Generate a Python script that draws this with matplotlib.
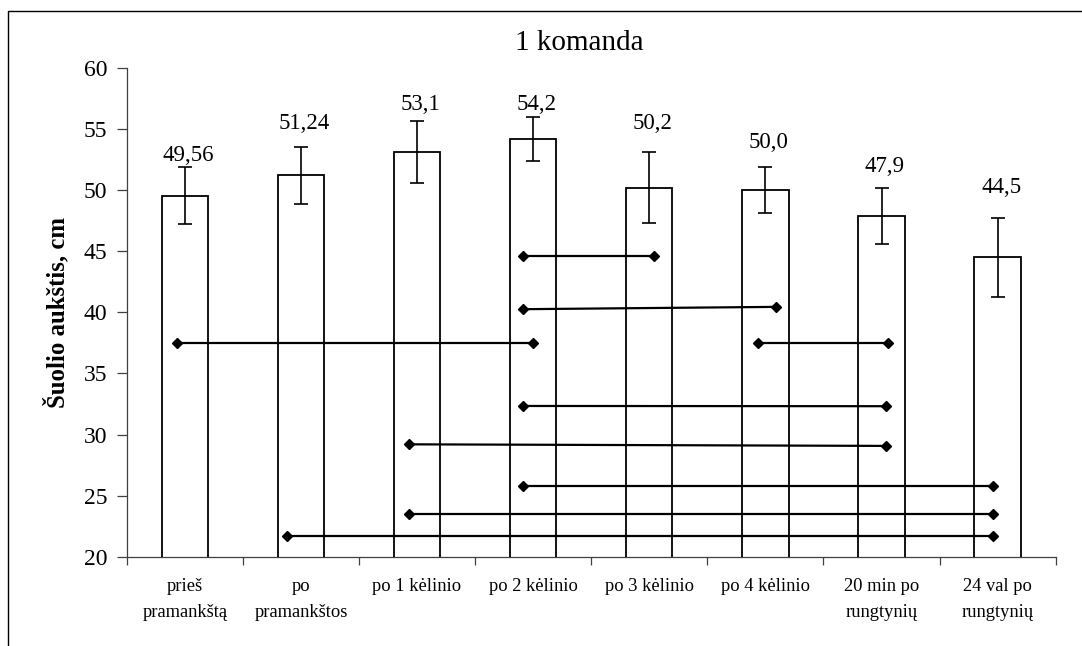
import matplotlib
matplotlib.use('Agg')
import numpy as np
import matplotlib.pyplot as plt
from matplotlib.patches import Rectangle

plt.rcParams['font.family'] = ['Liberation Serif', 'DejaVu Serif']

categories = ['prieš\npramankštą', 'po\npramankštos', 'po 1 kėlinio', 'po 2 kėlinio',
              'po 3 kėlinio', 'po 4 kėlinio', '20 min po\nrungtynių', '24 val po\nrungtynių']
heights = [49.56, 51.24, 53.1, 54.2, 50.2, 50.0, 47.9, 44.5]
value_labels = ['49,56', '51,24', '53,1', '54,2', '50,2', '50,0', '47,9', '44,5']
errors = [2.33, 2.33, 2.54, 1.8, 2.9, 1.86, 2.27, 3.25]
label_y = [52.35, 55.0, 56.58, 56.58, 55.0, 53.47, 51.48, 49.76]

# significant differences: start/end position on category axis, y at start/end
sig_x0 = [2.91, 2.91, -0.07, 4.94, 2.91, 1.93, 2.91, 1.93, 0.88]
sig_x1 = [4.04, 5.09, 3.00, 6.06, 6.04, 6.04, 6.96, 6.96, 6.96]
sig_y0 = [44.65, 40.26, 37.48, 37.48, 32.34, 29.2, 25.81, 23.47, 21.72]
sig_y1 = [44.65, 40.45, 37.48, 37.48, 32.32, 29.07, 25.81, 23.47, 21.72]

fig = plt.figure(figsize=(10.82, 6.46), dpi=100)
ax = fig.add_axes([0.1171, 0.1382, 0.8586, 0.7565])

x = np.arange(len(categories))
ax.bar(x, heights, width=0.4, color='white', edgecolor='black', linewidth=1.3, zorder=2)
ax.errorbar(x, heights, yerr=errors, fmt='none', ecolor='black', elinewidth=1.2,
            capsize=4.7, capthick=1.2, zorder=3)

for xi, lab, ly in zip(x, value_labels, label_y):
    ax.text(xi + 0.03, ly, lab, ha='center', va='baseline', fontsize=16.5)

for a, b, c, d in zip(sig_x0, sig_x1, sig_y0, sig_y1):
    ax.plot([a, b], [c, d], color='black', linewidth=1.6, marker='D', markersize=5.5,
            zorder=4, clip_on=False)

ax.set_xlim(-0.5, 7.5)
ax.set_ylim(20, 60)
ax.set_yticks(np.arange(20, 61, 5))
ax.set_xticks(np.arange(9) - 0.5)
ax.set_xticklabels([])
ax.set_xticks(x, categories, minor=True)
ax.tick_params(axis='x', which='minor', length=0, pad=15, labelsize=13.3)
ax.tick_params(axis='x', which='major', length=6, width=0.9, color='#404040')
ax.tick_params(axis='y', length=7, width=0.9, color='#404040', pad=7, labelsize=17)
for lab in ax.xaxis.get_minorticklabels():
    lab.set_linespacing(1.7)

for side in ['top', 'right']:
    ax.spines[side].set_visible(False)
for side in ['left', 'bottom']:
    ax.spines[side].set_linewidth(0.9)
    ax.spines[side].set_color('#404040')

ax.set_ylabel('Šuolio aukštis, cm', fontsize=17.8, fontweight='bold', labelpad=10)
fig.text(579 / 1082, 1 - 50 / 646, '1 komanda', ha='center', va='baseline', fontsize=21)

# outer chart frame
fig.patches.append(Rectangle((8 / 1082, -0.1), 1.2, 1.1 - 11 / 646,
                             transform=fig.transFigure, fill=False,
                             edgecolor='black', linewidth=1.0))

fig.savefig('out.png', dpi=100)
